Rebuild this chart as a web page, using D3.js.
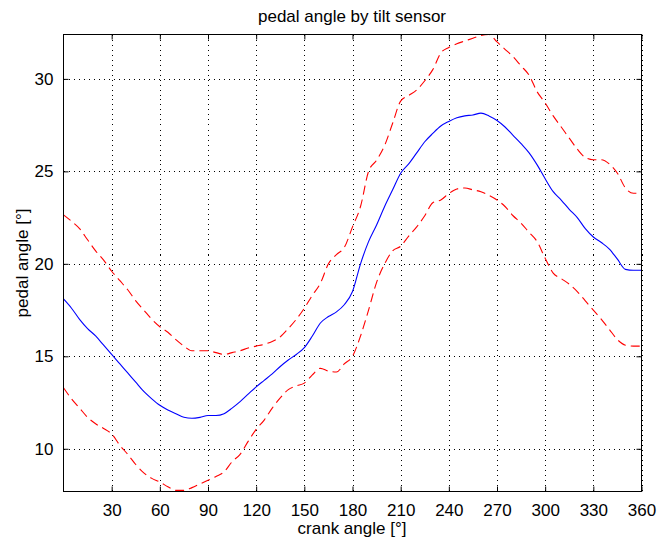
<!DOCTYPE html>
<html>
<head>
<meta charset="utf-8">
<script src="https://cdn.jsdelivr.net/npm/d3@7"></script>
<style>
  body { margin: 0; background: #fff; }
  svg text { font-family: "Liberation Sans", Arial, sans-serif; fill: #000; }
</style>
</head>
<body>
<script>
// crank angle samples, every 5 degrees
var angles = d3.range(0, 361, 5);

var meanAngle = [
  18.1, 17.6, 17.0, 16.5, 16.1, 15.6, 15.1, 14.6, 14.1, 13.6, 13.1, 12.7,
  12.35, 12.1, 11.9, 11.7, 11.65, 11.7, 11.8, 11.8, 11.9, 12.2, 12.55, 12.95,
  13.35, 13.7, 14.05, 14.45, 14.8, 15.1, 15.47, 16.1, 16.8, 17.15, 17.4, 17.8,
  18.5, 20.0, 21.2, 22.1, 23.1, 24.0, 24.9, 25.4, 26.0, 26.6, 27.05, 27.45,
  27.7, 27.9, 28.0, 28.05, 28.15, 28.0, 27.75, 27.4, 26.95, 26.5, 26.0, 25.35,
  24.6, 23.9, 23.45, 22.95, 22.5, 21.9, 21.45, 21.15, 20.8, 20.25, 19.7, 19.65,
  19.65
];

var upperAngle = [
  22.65, 22.3, 21.9, 21.3, 20.7, 20.2, 19.6, 19.1, 18.6, 18.0, 17.5, 17.0,
  16.6, 16.3, 15.9, 15.55, 15.3, 15.3, 15.3, 15.2, 15.1, 15.2, 15.3, 15.45,
  15.55, 15.65, 15.8, 16.05, 16.5, 17.0, 17.6, 18.3, 18.95, 20.0, 20.5, 20.9,
  22.0, 23.1, 25.0, 25.6, 26.4, 27.6, 28.8, 29.1, 29.4, 29.9, 30.5, 31.4,
  31.7, 31.9, 32.05, 32.2, 32.35, 32.4, 32.0, 31.6, 31.2, 30.7, 30.2, 29.3,
  28.7, 28.0, 27.4, 26.8, 26.2, 25.75, 25.63, 25.63, 25.4, 24.9, 24.1, 23.82,
  23.82
];

var lowerAngle = [
  13.3, 12.7, 12.2, 11.7, 11.35, 11.1, 10.8, 10.2, 9.7, 9.15, 8.7, 8.4,
  8.2, 7.95, 7.75, 7.75, 7.9, 8.1, 8.3, 8.5, 8.75, 9.3, 9.7, 10.4,
  11.05, 11.55, 12.2, 12.75, 13.2, 13.4, 13.55, 14.0, 14.35, 14.2, 14.15, 14.6,
  15.0, 16.1, 17.5, 19.0, 20.0, 20.7, 20.95, 21.5, 22.0, 22.6, 23.3, 23.45,
  23.8, 24.05, 24.1, 24.0, 23.9, 23.7, 23.45, 23.1, 22.6, 22.2, 21.7, 21.2,
  20.3, 19.5, 19.2, 18.9, 18.5, 18.0, 17.5, 17.0, 16.45, 15.9, 15.6, 15.55,
  15.55
];

var xTicks = [30, 60, 90, 120, 150, 180, 210, 240, 270, 300, 330, 360];
var yTicks = [10, 15, 20, 25, 30];

var width = 668;
var height = 541;
var plotLeft = 63.5, plotRight = 641.5, plotTop = 34.5, plotBottom = 491.5;

var svg = d3.select("body").append("svg")
  .attr("width", width)
  .attr("height", height);

var xScale = d3.scaleLinear().domain([0, 360]).range([plotLeft, plotRight]);
var yScale = d3.scaleLinear().domain([7.69, 32.4]).range([plotBottom, plotTop]);

// grid
var grid = svg.append("g")
  .attr("stroke", "#000")
  .attr("stroke-width", 1)
  .attr("stroke-dasharray", "1,4")
  .attr("shape-rendering", "crispEdges");

grid.selectAll("line.vx")
  .data(xTicks)
  .enter()
  .append("line")
  .attr("x1", d => Math.round(xScale(d)) + 0.5)
  .attr("x2", d => Math.round(xScale(d)) + 0.5)
  .attr("y1", plotTop)
  .attr("y2", plotBottom);

grid.selectAll("line.hy")
  .data(yTicks)
  .enter()
  .append("line")
  .attr("y1", d => Math.round(yScale(d)) + 0.5)
  .attr("y2", d => Math.round(yScale(d)) + 0.5)
  .attr("x1", plotLeft)
  .attr("x2", plotRight);

// curves
var line = d3.line()
  .x((d, i) => xScale(angles[i]))
  .y(d => yScale(d))
  .curve(d3.curveMonotoneX);

var plot = svg.append("g");

plot.append("path")
  .datum(upperAngle)
  .attr("fill", "none")
  .attr("stroke", "#ff0000")
  .attr("stroke-width", 1.1)
  .attr("stroke-dasharray", "9,5")
  .attr("d", line);

plot.append("path")
  .datum(lowerAngle)
  .attr("fill", "none")
  .attr("stroke", "#ff0000")
  .attr("stroke-width", 1.1)
  .attr("stroke-dasharray", "9,5")
  .attr("d", line);

plot.append("path")
  .datum(meanAngle)
  .attr("fill", "none")
  .attr("stroke", "#0000ff")
  .attr("stroke-width", 1.1)
  .attr("d", line);

// axes (MATLAB style: ticks inside, on all four sides)
var tickLen = 5;

svg.append("g")
  .attr("transform", "translate(0," + plotBottom + ")")
  .call(d3.axisBottom(xScale).tickValues(xTicks).tickSizeInner(-tickLen).tickSizeOuter(0).tickPadding(12))
  .call(g => g.select(".domain").remove());

svg.append("g")
  .attr("transform", "translate(0," + plotTop + ")")
  .call(d3.axisTop(xScale).tickValues(xTicks).tickSizeInner(-tickLen).tickSizeOuter(0).tickFormat(""))
  .call(g => g.select(".domain").remove());

svg.append("g")
  .attr("transform", "translate(" + plotLeft + ",0)")
  .call(d3.axisLeft(yScale).tickValues(yTicks).tickSizeInner(-tickLen).tickSizeOuter(0).tickPadding(10))
  .call(g => g.select(".domain").remove());

svg.append("g")
  .attr("transform", "translate(" + plotRight + ",0)")
  .call(d3.axisRight(yScale).tickValues(yTicks).tickSizeInner(-tickLen).tickSizeOuter(0).tickFormat(""))
  .call(g => g.select(".domain").remove());

svg.selectAll(".tick line").attr("stroke", "#000");
svg.selectAll(".tick text")
  .style("font-family", '"Liberation Sans", Arial, sans-serif')
  .style("font-size", "17px");

svg.append("rect")
  .attr("x", plotLeft)
  .attr("y", plotTop)
  .attr("width", plotRight - plotLeft)
  .attr("height", plotBottom - plotTop)
  .attr("fill", "none")
  .attr("stroke", "#000")
  .attr("stroke-width", 1);

// labels
svg.append("text")
  .attr("x", 352)
  .attr("y", 22)
  .attr("text-anchor", "middle")
  .style("font-size", "17px")
  .text("pedal angle by tilt sensor");

svg.append("text")
  .attr("x", 352)
  .attr("y", 534)
  .attr("text-anchor", "middle")
  .style("font-size", "17px")
  .text("crank angle [°]");

svg.append("text")
  .attr("transform", "translate(28," + 263 + ") rotate(-90)")
  .attr("text-anchor", "middle")
  .style("font-size", "17px")
  .text("pedal angle [°]");
</script>
</body>
</html>
